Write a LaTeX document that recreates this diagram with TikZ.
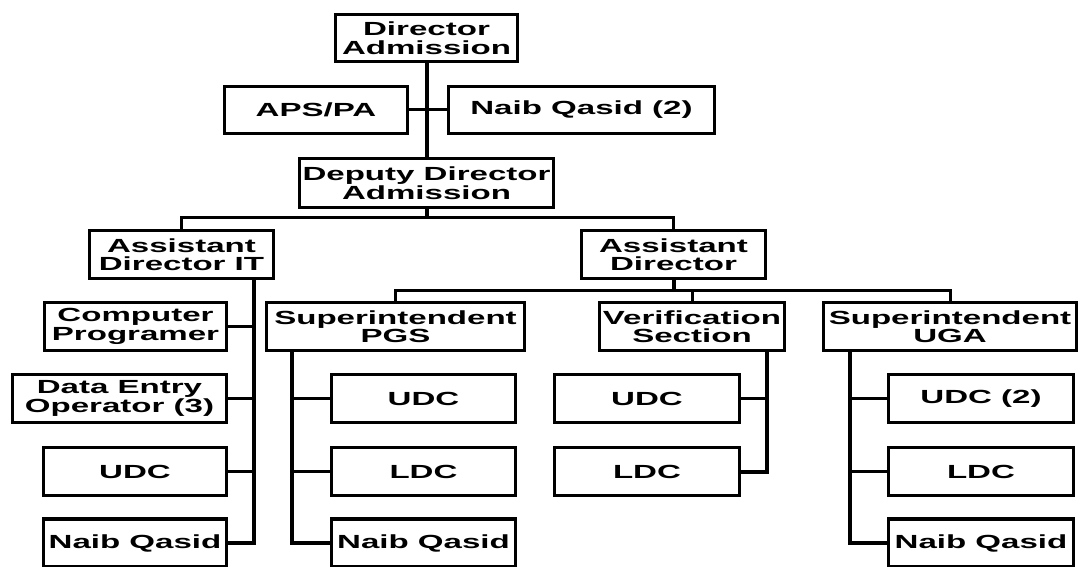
\documentclass[tikz,border=0pt]{standalone}
\usepackage{fontspec}
\newfontfamily\lab{Liberation Sans}[FakeStretch=1.74]
\begin{document}
\begin{tikzpicture}[x=1pt,y=-1pt,
  bx/.style={draw=black,line width=3.5pt,fill=white,inner sep=0pt,align=center,
    minimum height=48pt,font=\lab\bfseries\fontsize{19}{18.5}\selectfont},
  vline/.style={line width=4pt,line cap=butt},
  hline/.style={line width=3pt,line cap=butt}]
\useasboundingbox (0,0) rectangle (1080,567);
% coordinates for vertical spines and buses
\coordinate (itx) at (254,0);
\coordinate (pgx) at (292,0);
\coordinate (vex) at (767,0);
\coordinate (ugx) at (850,0);
\coordinate (b1) at (426.5,218);
\coordinate (b2) at (673.5,290);
% nodes
\node[bx,minimum width=182pt,minimum height=47pt] (dir) at (426.5,38) {Director\\Admission};
\node[bx,minimum width=183pt,minimum height=47pt] (aps) at (316,110) {APS/PA};
\node[bx,minimum width=266pt,minimum height=47pt] (nq2) at (581.5,110) {Naib Qasid (2)};
\node[bx,minimum width=254pt,minimum height=49pt] (dep) at (426.5,183) {Deputy Director\\Admission};
\node[bx,minimum width=184pt] (adit) at (181.5,254.5) {Assistant\\Director IT};
\node[bx,minimum width=184pt] (ad) at (673.5,254.5) {Assistant\\Director};
\node[bx,minimum width=182pt] (cp) at (135.5,326.5) {Computer\\Programer};
\node[bx,minimum width=258pt] (pgs) at (395.5,326.5) {Superintendent\\PGS};
\node[bx,minimum width=185pt] (ver) at (692,326.5) {Verification\\Section};
\node[bx,minimum width=253pt] (uga) at (950,326.5) {Superintendent\\UGA};
\node[bx,minimum width=214pt] (de) at (119.5,398.5) {Data Entry\\Operator (3)};
\node[bx,minimum width=183pt] (udc1) at (135,471.5) {UDC};
\node[bx,minimum width=183pt] (nq1) at (135,543) {Naib Qasid};
\node[bx,minimum width=184pt] (pudc) at (423.5,398.5) {UDC};
\node[bx,minimum width=184pt] (pldc) at (423.5,471.5) {LDC};
\node[bx,minimum width=184pt] (pnq) at (423.5,543) {Naib Qasid};
\node[bx,minimum width=185pt] (vudc) at (647,398.5) {UDC};
\node[bx,minimum width=185pt] (vldc) at (647,471.5) {LDC};
\node[bx,minimum width=185pt] (uudc) at (981,398.5) {UDC (2)};
\node[bx,minimum width=185pt] (uldc) at (981,471.5) {LDC};
\node[bx,minimum width=185pt] (unq) at (981,543) {Naib Qasid};
% top
\draw[vline] (dir.south) -- (dep.north);
\draw[hline] (aps.east) -- (nq2.west);
\draw[vline] (dep.south) -- (b1);
\draw[hline] (adit.north) |- (b1) -| (ad.north);
% assistant director
\draw[vline] (ad.south) -- (b2);
\draw[hline] (pgs.north) |- (b2) -| (uga.north);
\draw[hline] (ver.north) -- (ver.north |- b2);
% IT branch
\draw[vline] (adit.south -| itx) |- (nq1.east);
\draw[hline] (cp.east) -- (cp.east -| itx);
\draw[hline] (de.east) -- (de.east -| itx);
\draw[hline] (udc1.east) -- (udc1.east -| itx);
% PGS branch
\draw[vline] (pgs.south -| pgx) |- (pnq.west);
\draw[hline] (pudc.west) -- (pudc.west -| pgx);
\draw[hline] (pldc.west) -- (pldc.west -| pgx);
% Verification branch
\draw[vline] (ver.south -| vex) |- (vldc.east);
\draw[hline] (vudc.east) -- (vudc.east -| vex);
% UGA branch
\draw[vline] (uga.south -| ugx) |- (unq.west);
\draw[hline] (uudc.west) -- (uudc.west -| ugx);
\draw[hline] (uldc.west) -- (uldc.west -| ugx);
\end{tikzpicture}
\end{document}
